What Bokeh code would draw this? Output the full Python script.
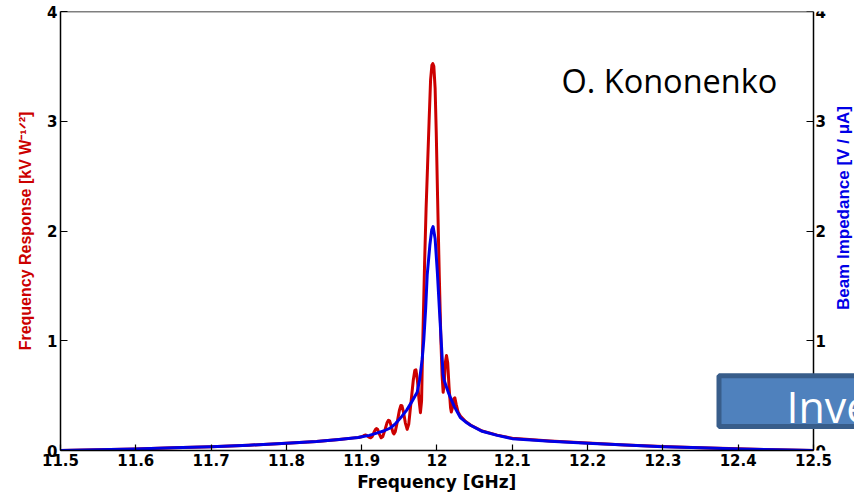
import math

from bokeh.embed import file_html
from bokeh.models import BoxAnnotation, FixedTicker, Label, LinearAxis, Range1d
from bokeh.plotting import figure
from bokeh.resources import INLINE

# Frequency response of the structure (left axis, kV W^-1/2)
RED_F = [
    11.500, 11.550, 11.600, 11.650, 11.700, 11.750, 11.800, 11.840, 11.870,
    11.890, 11.8960, 11.9010, 11.9035, 11.9050, 11.9070, 11.9095, 11.9118,
    11.9140, 11.9165, 11.9185, 11.9198, 11.9212, 11.9235, 11.9258, 11.9280,
    11.9310, 11.9335, 11.9355, 11.9372, 11.9395, 11.9415, 11.9428, 11.9445,
    11.9475, 11.9500, 11.9520, 11.9535, 11.9555, 11.9580, 11.9604, 11.9625,
    11.9655, 11.9685, 11.9705, 11.9720, 11.9740, 11.9760, 11.9780, 11.9795,
    11.9805, 11.9818, 11.9835, 11.9855, 11.9875, 11.9895, 11.9915, 11.9932,
    11.9944, 11.9958, 11.9975, 11.9990, 12.0008, 12.0030, 12.0052, 12.0068,
    12.0082, 12.0095, 12.0110, 12.0126, 12.0142, 12.0160, 12.0180, 12.0190,
    12.0205, 12.0222, 12.0237, 12.0255, 12.0280, 12.0310, 12.0380, 12.0445,
    12.0600, 12.0800, 12.1000, 12.1500, 12.2000, 12.2500, 12.3000, 12.3500,
    12.4000, 12.4500, 12.5000,
]
RED_V = [
    0.000, 0.006, 0.014, 0.024, 0.035, 0.048, 0.065, 0.082, 0.100,
    0.115, 0.118, 0.128, 0.138, 0.141, 0.136, 0.122, 0.116,
    0.128, 0.168, 0.194, 0.200, 0.192, 0.150, 0.116, 0.128,
    0.190, 0.250, 0.276, 0.268, 0.215, 0.165, 0.150, 0.170,
    0.270, 0.365, 0.410, 0.408, 0.350, 0.250, 0.192, 0.240,
    0.440, 0.640, 0.730, 0.735, 0.640, 0.470, 0.345, 0.450,
    0.800, 1.200, 1.700, 2.200, 2.600, 3.000, 3.380, 3.510,
    3.525, 3.500, 3.300, 2.900, 2.300, 1.600, 1.000, 0.680,
    0.530, 0.600, 0.800, 0.865, 0.800, 0.580, 0.390, 0.350,
    0.390, 0.470, 0.480, 0.420, 0.350, 0.315, 0.265, 0.232,
    0.178, 0.140, 0.111, 0.087, 0.068, 0.051, 0.037, 0.025,
    0.015, 0.006, 0.000,
]

# Beam impedance (right axis, V / uA)
BLUE_F = [
    11.500, 11.550, 11.600, 11.650, 11.700, 11.750, 11.800, 11.840, 11.870,
    11.895, 11.910, 11.920, 11.930, 11.938, 11.945, 11.952, 11.960, 11.967,
    11.9737, 11.9770, 11.9803, 11.9825, 11.9850, 11.9870, 11.9905, 11.9930,
    11.9948, 11.9975, 12.0005, 12.0035, 12.0060, 12.0080, 12.0095, 12.0115,
    12.0150, 12.0180, 12.0230, 12.0270, 12.0310, 12.0380, 12.0445, 12.0600,
    12.0800, 12.1000, 12.1500, 12.2000, 12.2500, 12.3000, 12.3500, 12.4000,
    12.4500, 12.5000,
]
BLUE_V = [
    0.000, 0.006, 0.014, 0.024, 0.035, 0.048, 0.065, 0.082, 0.100,
    0.118, 0.138, 0.158, 0.180, 0.205, 0.245, 0.300, 0.370, 0.450,
    0.530, 0.650, 0.830, 1.010, 1.300, 1.600, 1.870, 2.010,
    2.040, 1.930, 1.620, 1.250, 0.950, 0.700, 0.640, 0.600,
    0.530, 0.480, 0.400, 0.350, 0.300, 0.260, 0.230, 0.175,
    0.138, 0.108, 0.085, 0.065, 0.049, 0.035, 0.024, 0.014,
    0.006, 0.000,
]

X_TICKS = [11.5, 11.6, 11.7, 11.8, 11.9, 12.0, 12.1, 12.2, 12.3, 12.4, 12.5]
X_TICK_LABELS = ["11.5", "11.6", "11.7", "11.8", "11.9", "12",
                 "12.1", "12.2", "12.3", "12.4", "12.5"]
Y_TICKS = [0, 1, 2, 3, 4]
Y_TICK_LABELS = ["0", "1", "2", "3", "4"]

F_MIN, F_MAX = 11.5, 12.5
# the canvas runs a little past 12.5 GHz so the slide banner can reach the edge
F_VIEW_MAX = 12.55445

RED = "#cc0000"
BLUE = "#0000e6"
NBSP = "\u00a0"

p = figure(
    width=854, height=494,
    x_range=Range1d(F_MIN, F_VIEW_MAX), y_range=Range1d(0, 4),
    output_backend="svg", toolbar_location=None,
    min_border_left=60, min_border_right=0,
    min_border_top=11, min_border_bottom=43,
    background_fill_color="white", border_fill_color="white",
)
p.extra_y_ranges = {"impedance": Range1d(0, 4)}
p.add_layout(LinearAxis(y_range_name="impedance", fixed_location=F_MAX), "right")
p.add_layout(LinearAxis(fixed_location=4, ticker=FixedTicker(ticks=[])), "above")

p.xgrid.grid_line_color = None
p.ygrid.grid_line_color = None
p.outline_line_color = None

for ax in p.axis:
    ax.axis_line_color = "black"
    ax.axis_line_width = 1.5
    ax.major_tick_line_color = "black"
    ax.major_tick_line_width = 1.2
    ax.major_tick_in = 7
    ax.major_tick_out = 0
    ax.minor_tick_line_color = None
    ax.major_label_text_font = "DejaVu Sans"
    ax.major_label_text_font_style = "bold"
    ax.major_label_text_font_size = "15px"
    ax.major_label_text_color = "black"
    ax.major_label_standoff = 3
    ax.axis_label_text_font = "Liberation Sans"
    ax.axis_label_text_font_style = "bold"

for ax in p.xaxis:
    ax.bounds = (F_MIN, F_MAX)

bottom_ax = p.below[0]
bottom_ax.ticker = FixedTicker(ticks=X_TICKS)
bottom_ax.major_label_overrides = dict(zip(X_TICKS, X_TICK_LABELS))
bottom_ax.major_tick_in = 6
# trailing no-break spaces keep the title centred under 11.5-12.5 GHz
bottom_ax.axis_label = "Frequency [GHz]" + NBSP * 7
bottom_ax.axis_label_text_font = "DejaVu Sans"
bottom_ax.axis_label_text_font_size = "17px"
bottom_ax.axis_label_text_color = "black"
bottom_ax.axis_label_standoff = 3

for ax in p.yaxis:
    ax.ticker = FixedTicker(ticks=Y_TICKS)
    ax.major_label_overrides = dict(zip(Y_TICKS, Y_TICK_LABELS))

left_ax, right_ax = p.yaxis[0], p.yaxis[1]
left_ax.axis_label = "Frequency Response [kV W\u207b\u00b9\u141f\u00b2]"
left_ax.axis_label_text_font_size = "16px"
left_ax.axis_label_text_color = RED
left_ax.axis_label_standoff = 10

right_ax.major_label_standoff = 2

p.line(RED_F, RED_V, line_color=RED, line_width=3, line_join="round")
p.line(BLUE_F, BLUE_V, line_color=BLUE, line_width=3, line_join="round",
       y_range_name="impedance")

# Title of the impedance axis, reading upwards beside the right tick labels
p.add_layout(Label(x=12.5392, y=2.209, text="Beam Impedance [V / \u03bcA]",
                   angle=math.pi / 2, text_align="center", text_baseline="middle",
                   text_font="Liberation Sans", text_font_style="bold",
                   text_font_size="17px", text_color=BLUE))

# Author credit
p.add_layout(Label(x=12.1653, y=3.372, text="O. Kononenko",
                   text_font="Open Sans", text_font_size="32.5px",
                   text_color="black", text_baseline="alphabetic"))

# Slide banner overlapping the lower right corner
p.add_layout(BoxAnnotation(left=12.3745, right=12.60, bottom=0.2182, top=0.6818,
                           fill_color="#4f81bd", fill_alpha=1.0,
                           line_color="#385d8a", line_width=5, line_alpha=1.0))
p.add_layout(Label(x=12.4641, y=0.400, text="Inve",
                   text_font="Open Sans", text_font_size="43px",
                   text_color="white", text_baseline="alphabetic"))

open("out.html", "w").write(file_html(p, INLINE))
